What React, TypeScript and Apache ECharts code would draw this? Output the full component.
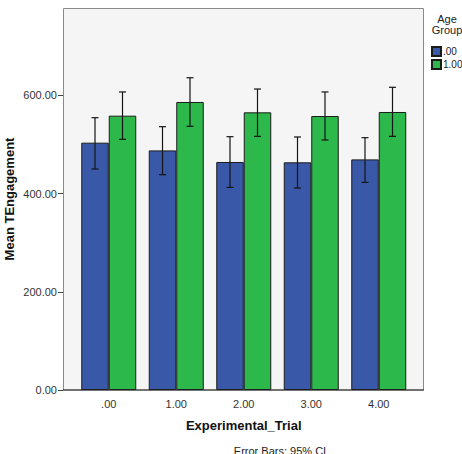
import React, { useEffect, useRef } from "react";
import * as echarts from "echarts";

const trials = [".00", "1.00", "2.00", "3.00", "4.00"];
const groupLabels = [".00", "1.00"];

// Mean TEngagement per trial for each age group
const meanGroup0 = [503.7, 488.0, 464.4, 463.7, 469.7];
const meanGroup1 = [558.7, 586.6, 565.5, 558.0, 566.2];

// 95% CI bounds
const lowGroup0 = [450.1, 438.5, 412.6, 411.4, 422.8];
const highGroup0 = [554.6, 536.3, 515.9, 515.3, 513.9];
const lowGroup1 = [510.6, 537.1, 516.6, 509.2, 516.6];
const highGroup1 = [607.0, 636.0, 613.0, 607.0, 616.5];

const Y_MAX = 778; // top of the plot frame
const Y_TICK_MAX = 600; // highest labelled tick
const Y_STEP = 200;

const FONT = "Liberation Sans, Arial, sans-serif";
const BAR_W = 27.5;

// plot frame in pixels
const FRAME_L = 63;
const FRAME_R = 424;
const FRAME_T = 8;
const FRAME_B = 390;
const PLOT_H = FRAME_B - FRAME_T;
const TICK_GRID_H = (PLOT_H * Y_TICK_MAX) / Y_MAX;

function errorSeries(low: number[], high: number[], offset: number) {
  return {
    type: "custom",
    z: 10,
    silent: true,
    xAxisIndex: 0,
    yAxisIndex: 0,
    data: trials.map((_, i) => [i, low[i], high[i]]),
    renderItem: (_params: any, api: any) => {
      const i = api.value(0);
      const lo = api.coord([i, api.value(1)]);
      const hi = api.coord([i, api.value(2)]);
      const x = lo[0] + offset;
      const cap = 3.5;
      const style = { stroke: "#151515", lineWidth: 1.2 };
      return {
        type: "group",
        children: [
          { type: "line", shape: { x1: x, y1: hi[1], x2: x, y2: lo[1] }, style },
          { type: "line", shape: { x1: x - cap, y1: hi[1], x2: x + cap, y2: hi[1] }, style },
          { type: "line", shape: { x1: x - cap, y1: lo[1], x2: x + cap, y2: lo[1] }, style },
        ],
      };
    },
  };
}

export default function App() {
  const ref = useRef<HTMLDivElement>(null);

  useEffect(() => {
    if (!ref.current) return;
    const chart = echarts.init(ref.current, null, { renderer: "svg" });
    chart.setOption({
      animation: false,
      backgroundColor: "#ffffff",
      textStyle: { fontFamily: FONT },
      // grid 0 holds the bars (inset inside the frame); grid 1 carries the labelled y ticks
      grid: [
        { left: 75, top: FRAME_T, width: 337.5, height: PLOT_H, containLabel: false, outerBoundsMode: "none" },
        {
          left: FRAME_L,
          top: FRAME_B - TICK_GRID_H,
          width: FRAME_R - FRAME_L,
          height: TICK_GRID_H,
          containLabel: false,
          outerBoundsMode: "none",
        },
      ],
      graphic: [
        {
          type: "rect",
          z: -10,
          shape: { x: FRAME_L + 0.5, y: FRAME_T + 0.5, width: FRAME_R - FRAME_L - 1, height: PLOT_H - 0.5 },
          style: { fill: "#f5f5f5", stroke: "#8a8a8a", lineWidth: 1 },
        },
        {
          type: "line",
          z: 20,
          shape: { x1: FRAME_L, y1: FRAME_B, x2: FRAME_R, y2: FRAME_B },
          style: { stroke: "#222222", lineWidth: 1.2 },
        },
        {
          type: "text",
          x: 9,
          y: 199,
          rotation: Math.PI / 2,
          style: {
            text: "Mean TEngagement",
            fontSize: 13,
            fontWeight: "bold",
            fill: "#111",
            fontFamily: FONT,
            align: "center",
            verticalAlign: "middle",
          },
        },
        {
          type: "text",
          x: 447,
          y: 13,
          style: {
            text: "Age\nGroup",
            fontSize: 11,
            lineHeight: 11,
            fill: "#222",
            fontFamily: FONT,
            align: "center",
            verticalAlign: "top",
          },
        },
        {
          type: "text",
          x: 280,
          y: 445,
          style: {
            text: "Error Bars: 95% CI",
            fontSize: 11,
            fill: "#222",
            fontFamily: FONT,
            align: "center",
            verticalAlign: "top",
          },
        },
      ],
      legend: {
        orient: "vertical",
        left: 431,
        top: 46,
        padding: 0,
        itemWidth: 9,
        itemHeight: 9,
        itemGap: 2,
        icon: "rect",
        data: groupLabels,
        textStyle: { fontSize: 10, color: "#222", fontFamily: FONT, padding: [0, 0, 0, -3] },
      },
      xAxis: [
        {
          type: "category",
          gridIndex: 0,
          data: trials,
          axisLine: { show: false },
          axisTick: { alignWithLabel: true, length: 5, lineStyle: { color: "#222" } },
          axisLabel: { fontSize: 11, color: "#333", margin: 8, fontFamily: FONT },
          splitLine: { show: false },
          name: "Experimental_Trial",
          nameLocation: "middle",
          nameGap: 29,
          nameTextStyle: { fontSize: 13, fontWeight: "bold", color: "#111", fontFamily: FONT },
        },
        { type: "value", gridIndex: 1, min: 0, max: 1, show: false },
      ],
      yAxis: [
        { type: "value", gridIndex: 0, min: 0, max: Y_MAX, show: false, splitLine: { show: false } },
        {
          type: "value",
          gridIndex: 1,
          min: 0,
          max: Y_TICK_MAX,
          interval: Y_STEP,
          axisLine: { show: true, onZero: false, lineStyle: { color: "#8a8a8a" } },
          axisTick: { show: true, length: 5, lineStyle: { color: "#444" } },
          axisLabel: {
            fontSize: 11,
            color: "#333",
            margin: 6,
            fontFamily: FONT,
            formatter: (v: number) => v.toFixed(2),
          },
          splitLine: { show: false },
        },
      ],
      series: [
        {
          name: groupLabels[0],
          type: "bar",
          data: meanGroup0,
          barWidth: BAR_W,
          barGap: "0%",
          itemStyle: { color: "#3a58a8", borderColor: "#1b1b1b", borderWidth: 1 },
        },
        {
          name: groupLabels[1],
          type: "bar",
          data: meanGroup1,
          barWidth: BAR_W,
          barGap: "0%",
          itemStyle: { color: "#2cb84b", borderColor: "#1b1b1b", borderWidth: 1 },
        },
        errorSeries(lowGroup0, highGroup0, -BAR_W / 2),
        errorSeries(lowGroup1, highGroup1, BAR_W / 2),
      ],
    });
    return () => chart.dispose();
  }, []);

  return (
    <div
      ref={ref}
      style={{ position: "fixed", left: 0, top: 0, width: 462, height: 454 }}
    />
  );
}
